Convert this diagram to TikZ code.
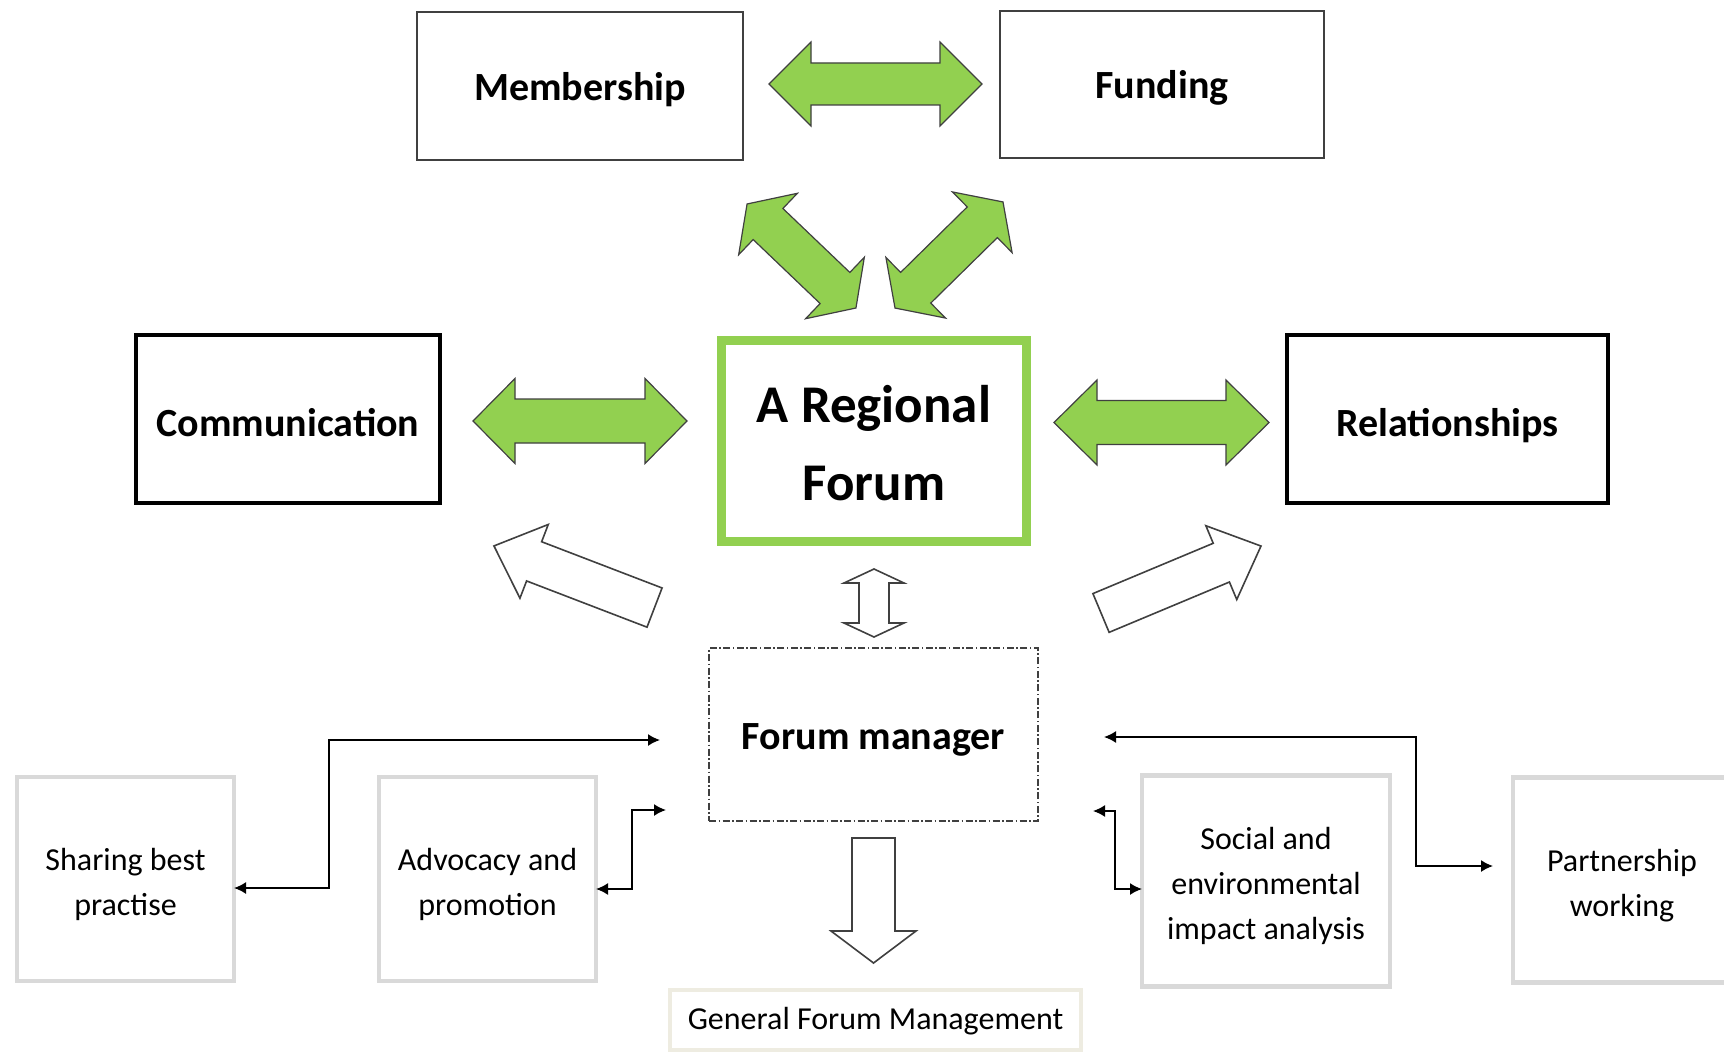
\documentclass[tikz,border=0pt]{standalone}
\usepackage{fontspec}
\setmainfont{Carlito}
\usetikzlibrary{arrows.meta}
\definecolor{fgreen}{HTML}{92D050}
\definecolor{lgray}{HTML}{D9D9D9}
\definecolor{beige}{HTML}{EEECE1}
\definecolor{dgray}{HTML}{404040}
% line struts: centre-box line (26.5pt font), lower boxes (16pt font)
\newcommand{\RstrutF}{\rule[-9.5pt]{0pt}{39pt}}
\newcommand{\LstrutF}{\rule[-4.5pt]{0pt}{22.5pt}}
% centre x, centre y, angle, half length, head length, head half width, shaft half width, style
\newcommand{\DblBlockArrow}[8]{\path[#8,shift={(#1,#2)},rotate=#3] (-#4,0) -- (-#4+#5,#6) -- (-#4+#5,#7) -- (#4-#5,#7) -- (#4-#5,#6) -- (#4,0) -- (#4-#5,-#6) -- (#4-#5,-#7) -- (-#4+#5,-#7) -- (-#4+#5,-#6) -- cycle;}
\newcommand{\SglBlockArrow}[8]{\path[#8,shift={(#1,#2)},rotate=#3] (-#4,#7) -- (#4-#5,#7) -- (#4-#5,#6) -- (#4,0) -- (#4-#5,-#6) -- (#4-#5,-#7) -- (-#4,-#7) -- cycle;}
\begin{document}
\begin{tikzpicture}[x=0.5pt,y=-0.5pt,
  inner sep=0pt, outer sep=0pt,
  greenarrow/.style={fill=fgreen,draw=black!75,line width=0.6pt,line join=miter},
  hollowarrow/.style={fill=white,draw=dgray,line width=0.8pt,line join=miter},
  boldtext/.style={font=\fontsize{20}{24}\selectfont\bfseries,text height=19.5pt,text depth=5pt},
  topbox/.style={draw=dgray,line width=1pt,boldtext},
  sidebox/.style={draw=black,line width=2.3pt,boldtext,text height=22.5pt},
  centrebox/.style={draw=fgreen,line width=4.5pt,align=center,font=\fontsize{26.5}{39}\selectfont\bfseries},
  mgrbox/.style={draw=dgray,line width=0.7pt,dash pattern=on 3.5pt off 1.25pt on 0.75pt off 1.25pt,boldtext},
  lowbox/.style={draw=lgray,line width=2.2pt,align=center,font=\fontsize{16}{22.5}\selectfont},
  genbox/.style={draw=beige,line width=1.7pt,font=\fontsize{16}{20}\selectfont,text height=15pt,text depth=6pt},
  conn/.style={draw=black,line width=0.8pt,{Latex[length=6pt,width=6pt]}-{Latex[length=6pt,width=6pt]}}
]
\clip (0,0) rectangle (1724,1054);
\fill[white] (0,0) rectangle (1724,1054);

% boxes
\node[topbox, minimum width=163pt, minimum height=74pt] (member) at (580,86) {Membership};
\node[topbox, minimum width=162pt, minimum height=73.5pt] (funding) at (1162,84.5) {Funding};
\node[sidebox, minimum width=152pt, minimum height=84pt] (comm) at (288,419) {Communication};
\node[sidebox, minimum width=160.5pt, minimum height=84pt] (relat) at (1447.5,419) {Relationships};
\node[centrebox, minimum width=152.5pt, minimum height=100.5pt] (forum) at (874,441) {\RstrutF A Regional\\\RstrutF Forum};
\node[mgrbox, minimum width=164.5pt, minimum height=86.5pt] (manager) at (873.5,734.5) {Forum manager};
\node[lowbox, minimum width=108.5pt, minimum height=102pt] (sharing) at (125.5,879) {\LstrutF Sharing best\\\LstrutF practise};
\node[lowbox, minimum width=108.5pt, minimum height=102pt] (advocacy) at (487.5,879) {\LstrutF Advocacy and\\\LstrutF promotion};
\node[lowbox, minimum width=124pt, minimum height=105.5pt] (social) at (1266,881) {\LstrutF Social and\\\LstrutF environmental\\\LstrutF impact analysis};
\node[lowbox, minimum width=109pt, minimum height=102.5pt] (partner) at (1622,880) {\LstrutF Partnership\\\LstrutF working};
\node[genbox, minimum width=205.5pt, minimum height=30pt] (general) at (875.5,1020) {General Forum Management};

% green block arrows
\DblBlockArrow{875.5}{84}{0}{106.5}{42}{42}{21}{greenarrow}
\DblBlockArrow{580}{421}{0}{107}{42}{42.5}{22}{greenarrow}
\DblBlockArrow{1161.5}{422.5}{0}{107.5}{43}{42.5}{22}{greenarrow}
\DblBlockArrow{801.5}{256}{-43.7}{75.3}{29}{42.5}{21.5}{greenarrow}
\DblBlockArrow{949}{255}{44.5}{75.7}{29}{42.5}{21.5}{greenarrow}

% hollow block arrows
\DblBlockArrow{874}{603}{90}{34}{14}{30}{15}{hollowarrow}
\SglBlockArrow{574.25}{576.75}{159}{86}{43}{39.5}{21}{hollowarrow}
\SglBlockArrow{1181}{579.5}{22.7}{86.7}{43}{40}{21}{hollowarrow}
\SglBlockArrow{873.5}{900.5}{-90}{62.5}{32}{42.5}{21.5}{hollowarrow}

% connectors
\coordinate (fmA) at (660,740);
\coordinate (fmB) at (666,810);
\coordinate (fmC) at (1093,811);
\coordinate (fmD) at (1104,737);
\draw[conn] ([yshift=-4.5pt]sharing.east) -- ++(95,0) |- (fmA);
\draw[conn] ([yshift=-5pt]advocacy.east) -- ++(36,0) |- (fmB);
\draw[conn] (fmC) -- ++(22,0) |- ([yshift=-4pt]social.west);
\draw[conn] (fmD) -- ++(312,0) |- ([xshift=-10pt,yshift=7pt]partner.west);
\end{tikzpicture}
\end{document}
